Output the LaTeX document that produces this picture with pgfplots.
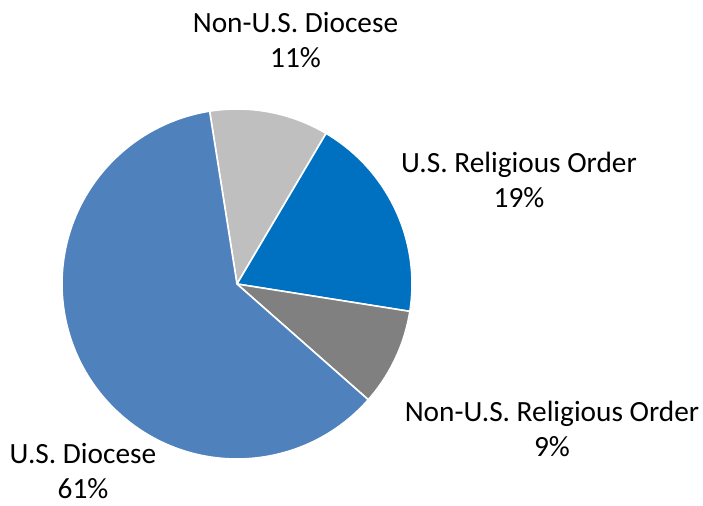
\documentclass[border=0pt]{standalone}
\usepackage{pgfplots}
\usepackage{pgfplotstable}
\usepackage{fontspec}
\setmainfont{Carlito}
\pgfplotsset{compat=1.18}

\definecolor{usdio}{HTML}{4F81BD}
\definecolor{usrel}{HTML}{0070C0}
\definecolor{nonrel}{HTML}{808080}
\definecolor{nondio}{HTML}{BFBFBF}

% shares in percent, clockwise from the first slice
\pgfplotstableread{
value
11
19
9
61
}\pietable

\pgfplotstablegetelem{0}{value}\of\pietable \let\vA\pgfplotsretval
\pgfplotstablegetelem{1}{value}\of\pietable \let\vB\pgfplotsretval
\pgfplotstablegetelem{2}{value}\of\pietable \let\vC\pgfplotsretval
\pgfplotstablegetelem{3}{value}\of\pietable \let\vD\pgfplotsretval
\pgfmathsetmacro\aZero{99}
\pgfmathsetmacro\aOne{\aZero-3.6*\vA}
\pgfmathsetmacro\aTwo{\aOne-3.6*\vB}
\pgfmathsetmacro\aThree{\aTwo-3.6*\vC}
\pgfmathsetmacro\aFour{\aThree-3.6*\vD}
\def\R{131.25pt}

\begin{document}
\begin{tikzpicture}
\begin{axis}[
  scale only axis, width=527.25pt, height=379.5pt,
  xmin=0, xmax=703, ymin=0, ymax=506,
  hide axis, clip=false,
]
\filldraw[fill=nondio, draw=white, line width=1.2pt] (axis cs:237,222) -- ([shift={(\aZero:\R)}]axis cs:237,222) arc[start angle=\aZero, end angle=\aOne, radius=\R] -- cycle;
\filldraw[fill=usrel, draw=white, line width=1.2pt] (axis cs:237,222) -- ([shift={(\aOne:\R)}]axis cs:237,222) arc[start angle=\aOne, end angle=\aTwo, radius=\R] -- cycle;
\filldraw[fill=nonrel, draw=white, line width=1.2pt] (axis cs:237,222) -- ([shift={(\aTwo:\R)}]axis cs:237,222) arc[start angle=\aTwo, end angle=\aThree, radius=\R] -- cycle;
\filldraw[fill=usdio, draw=white, line width=1.2pt] (axis cs:237,222) -- ([shift={(\aThree:\R)}]axis cs:237,222) arc[start angle=\aThree, end angle=\aFour, radius=\R] -- cycle;

\begin{scope}[every node/.style={font=\fontsize{22}{26}\selectfont, anchor=base, inner sep=0pt}]
\node at (axis cs:295.5,473) {Non-U.S. Diocese};
\node at (axis cs:295.5,438) {11\%};
\node at (axis cs:519,333) {U.S. Religious Order};
\node at (axis cs:519,298) {19\%};
\node at (axis cs:552,84) {Non-U.S. Religious Order};
\node at (axis cs:552,49) {9\%};
\node at (axis cs:83,42) {U.S. Diocese};
\node at (axis cs:83,7) {61\%};
\end{scope}
\end{axis}
\pgfresetboundingbox
\path (current axis.south west) rectangle (current axis.north east);
\end{tikzpicture}
\end{document}
